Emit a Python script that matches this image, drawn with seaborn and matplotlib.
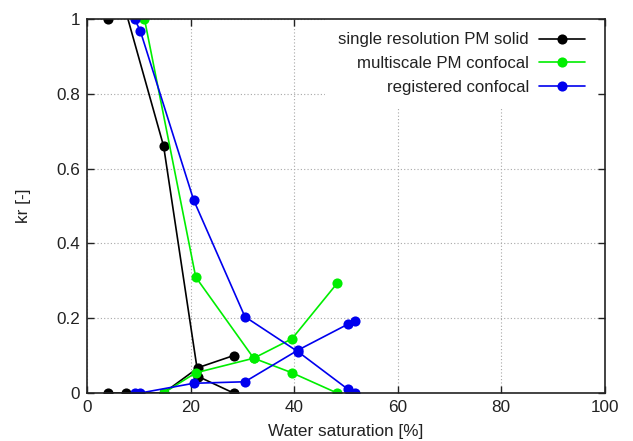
import matplotlib
matplotlib.use("Agg")
import matplotlib.pyplot as plt
import seaborn as sns
import pandas as pd

# --- data ---
series_names = ["single resolution PM solid", "multiscale PM confocal", "registered confocal"]
colors = ["#000000", "#00ee00", "#0000ee"]

black_sat = [4.1, 7.6, 14.8, 21.5, 28.3]
black_kr_dec = [1.0, 1.015, 0.66, 0.044, 0.0]
black_kr_inc = [0.0, 0.0, 0.0, 0.068, 0.10]

green_sat_dec = [11.1, 21.0, 32.2, 39.6, 48.3]
green_kr_dec = [1.0, 0.31, 0.093, 0.054, 0.0]
green_sat_inc = [14.8, 21.0, 32.2, 39.6, 48.3]
green_kr_inc = [0.0, 0.054, 0.093, 0.145, 0.293]

blue_sat = [9.2, 10.3, 20.6, 30.5, 40.8, 50.4, 51.8]
blue_kr_dec = [1.0, 0.968, 0.516, 0.204, 0.11, 0.01, 0.0]
blue_kr_inc = [0.0, 0.0, 0.026, 0.030, 0.115, 0.184, 0.192]

x_ticks = [0, 20, 40, 60, 80, 100]
y_ticks = [0, 0.2, 0.4, 0.6, 0.8, 1]
y_ticklabels = ["0", "0.2", "0.4", "0.6", "0.8", "1"]

curves = [
    (0, black_sat, black_kr_dec),
    (0, black_sat, black_kr_inc),
    (1, green_sat_dec, green_kr_dec),
    (1, green_sat_inc, green_kr_inc),
    (2, blue_sat, blue_kr_dec),
    (2, blue_sat, blue_kr_inc),
]

sns.set_theme(style="white")
plt.rcParams["font.family"] = ["Liberation Sans", "DejaVu Sans"]

FS = 12.3

fig = plt.figure(figsize=(6.33, 4.41), dpi=100)
ax = fig.add_axes([87 / 633, 1 - 393 / 441, (604.7 - 87) / 633, (393 - 19) / 441])

handles = {}
for idx, xs, ys in curves:
    df = pd.DataFrame({"sat": xs, "kr": ys})
    before = len(ax.lines)
    sns.lineplot(data=df, x="sat", y="kr", ax=ax, sort=False, estimator=None,
                 color=colors[idx], marker="o", markersize=7.3,
                 markeredgecolor=colors[idx], markeredgewidth=0,
                 linewidth=1.2, legend=False)
    line = ax.lines[before]
    if idx not in handles:
        handles[idx] = line

ax.set_xlim(0, 100)
ax.set_ylim(0, 1)
ax.set_xticks(x_ticks)
ax.set_xticklabels([str(t) for t in x_ticks])
ax.set_yticks(y_ticks)
ax.set_yticklabels(y_ticklabels)

ax.grid(True, color="#a8a8a8", linestyle=(0, (1, 2)), linewidth=0.8)
ax.set_axisbelow(True)
for s in ax.spines.values():
    s.set_visible(True)
    s.set_color("#222222")
    s.set_linewidth(1.2)
    s.set_zorder(3)

ax.tick_params(axis="both", which="major", direction="in", length=5, width=1,
               top=True, right=True, bottom=True, left=True, color="#222222",
               labelsize=FS, labelcolor="#222222", pad=5)

ax.set_xlabel("Water saturation [%]", fontsize=FS, color="#222222")
ax.set_ylabel("kr [-]", fontsize=FS, color="#222222")
ax.xaxis.set_label_coords(0.5, -0.083)
ax.yaxis.set_label_coords(-0.108, 0.5)

leg = ax.legend([handles[i] for i in range(3)], series_names,
                loc="upper right", bbox_to_anchor=(598 / 633, 1 - 19 / 441),
                bbox_transform=fig.transFigure, markerfirst=False,
                frameon=True, fancybox=False, framealpha=1.0,
                facecolor="white", edgecolor="none", fontsize=12.1,
                handlelength=2.7, handletextpad=0.6, labelspacing=0.52,
                borderpad=0.8, borderaxespad=0)
for t in leg.get_texts():
    t.set_color("#222222")
leg.set_zorder(2.2)

fig.savefig("out.png", dpi=100)
